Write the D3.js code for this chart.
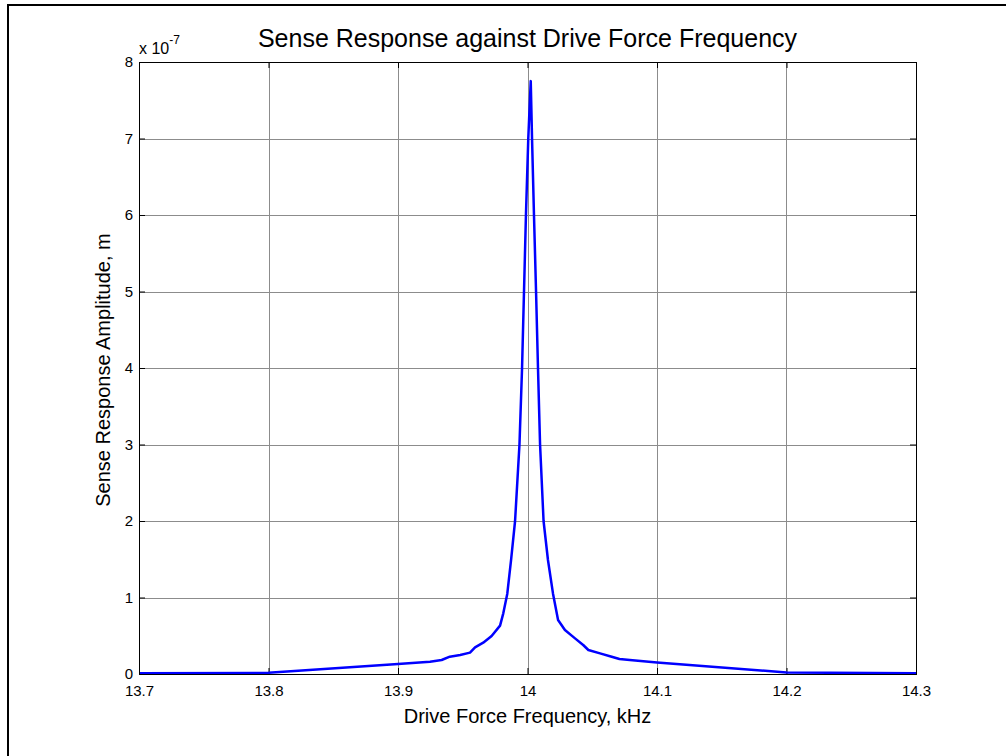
<!DOCTYPE html>
<html>
<head>
<meta charset="utf-8">
<script src="https://cdn.jsdelivr.net/npm/d3@7"></script>
<style>
  html, body { margin: 0; padding: 0; background: #fff; }
  svg { display: block; font-family: "Liberation Sans", Arial, sans-serif; }
</style>
</head>
<body>
<svg id="chart" width="1006" height="756"></svg>
<script>
// Drive force frequency (kHz)
const frequency = [13.70, 13.80, 13.90, 13.9247, 13.9337, 13.940, 13.948, 13.9556, 13.9595, 13.9658,
  13.9723, 13.9788, 13.9813, 13.9844, 13.9873, 13.9904, 13.9938, 13.9958, 13.9973, 13.9988,
  14.0006, 14.0025, 14.0035, 14.0050, 14.0066, 14.0081, 14.0097, 14.0124, 14.0158, 14.0197,
  14.0236, 14.0289, 14.0367, 14.043, 14.047, 14.056, 14.065, 14.071, 14.079, 14.10, 14.20, 14.30];
// Sense response amplitude (x 1e-7 m)
const amplitude = [0.01, 0.015, 0.13, 0.161, 0.183, 0.226, 0.248, 0.279, 0.349, 0.409,
  0.497, 0.632, 0.793, 1.05, 1.49, 2.0, 3.0, 4.0, 5.0, 6.0,
  7.0, 7.75, 7.0, 6.0, 5.0, 4.0, 3.0, 2.0, 1.49, 1.05,
  0.706, 0.575, 0.466, 0.379, 0.314, 0.27, 0.226, 0.196, 0.183, 0.15, 0.02, 0.01];

const xTicks = [13.7, 13.8, 13.9, 14.0, 14.1, 14.2, 14.3];
const xTickLabels = ["13.7", "13.8", "13.9", "14", "14.1", "14.2", "14.3"];
const yTicks = [0, 1, 2, 3, 4, 5, 6, 7, 8];

const titleText = "Sense Response against Drive Force Frequency";
const xLabelText = "Drive Force Frequency, kHz";
const yLabelText = "Sense Response Amplitude, m";

const svg = d3.select("#chart");
const plot = { left: 139, right: 916, top: 62, bottom: 674 };

const x = d3.scaleLinear().domain([13.7, 14.3]).range([plot.left, plot.right]);
const y = d3.scaleLinear().domain([0, 8]).range([plot.bottom, plot.top]);

// figure frame
svg.append("rect")
  .attr("x", 8).attr("y", 5)
  .attr("width", 1010).attr("height", 770)
  .attr("fill", "none").attr("stroke", "#000").attr("stroke-width", 2);

// grid
const grid = svg.append("g").attr("stroke", "#8c8c8c").attr("stroke-width", 1).attr("shape-rendering", "crispEdges");
grid.selectAll("line.gx").data(xTicks.slice(1, -1)).join("line")
  .attr("x1", d => Math.round(x(d)) + 0.5).attr("x2", d => Math.round(x(d)) + 0.5)
  .attr("y1", plot.top).attr("y2", plot.bottom);
grid.selectAll("line.gy").data(yTicks.slice(1, -1)).join("line")
  .attr("y1", d => Math.round(y(d)) + 0.5).attr("y2", d => Math.round(y(d)) + 0.5)
  .attr("x1", plot.left).attr("x2", plot.right);

// axes with inward ticks on all four sides
const tickLen = 6;
const bottomAxis = d3.axisBottom(x).tickValues(xTicks).tickSize(-tickLen).tickPadding(11)
  .tickFormat((d, i) => xTickLabels[i]);
const topAxis = d3.axisTop(x).tickValues(xTicks).tickSize(-tickLen).tickFormat("");
const leftAxis = d3.axisLeft(y).tickValues(yTicks).tickSize(-tickLen).tickPadding(6)
  .tickFormat(d3.format("d"));
const rightAxis = d3.axisRight(y).tickValues(yTicks).tickSize(-tickLen).tickFormat("");

function styleAxis(g) {
  g.select(".domain").remove();
  g.selectAll(".tick line").attr("stroke", "#000");
  g.selectAll(".tick text").attr("fill", "#000").style("font-size", "15px")
    .style("font-family", "'Liberation Sans', Arial, sans-serif");
}
svg.append("g").attr("transform", `translate(0,${plot.bottom})`).call(bottomAxis).call(styleAxis);
svg.append("g").attr("transform", `translate(0,${plot.top})`).call(topAxis).call(styleAxis);
svg.append("g").attr("transform", `translate(${plot.left},0)`).call(leftAxis).call(styleAxis);
svg.append("g").attr("transform", `translate(${plot.right},0)`).call(rightAxis).call(styleAxis);

// response curve
const line = d3.line().x((d, i) => x(frequency[i])).y(d => y(d));
svg.append("path")
  .datum(amplitude)
  .attr("d", line)
  .attr("fill", "none")
  .attr("stroke", "#0000ff")
  .attr("stroke-width", 2.5)
  .attr("stroke-linejoin", "round");

// axes box
svg.append("rect")
  .attr("x", plot.left + 0.5).attr("y", plot.top + 0.5)
  .attr("width", plot.right - plot.left).attr("height", plot.bottom - plot.top)
  .attr("fill", "none").attr("stroke", "#000").attr("stroke-width", 1)
  .attr("shape-rendering", "crispEdges");

// exponent label
const expo = svg.append("text").attr("x", plot.left).attr("y", 54)
  .style("font-size", "16px").attr("fill", "#000");
expo.append("tspan").text("x 10");
expo.append("tspan").attr("dy", -10).style("font-size", "12px").text("-7");

// title and axis labels
svg.append("text").attr("x", (plot.left + plot.right) / 2).attr("y", 47)
  .attr("text-anchor", "middle").style("font-size", "25px").attr("fill", "#000").text(titleText);
svg.append("text").attr("x", (plot.left + plot.right) / 2).attr("y", 723)
  .attr("text-anchor", "middle").style("font-size", "20px").attr("fill", "#000").text(xLabelText);
svg.append("text")
  .attr("transform", `translate(110,${(plot.top + plot.bottom) / 2 + 2}) rotate(-90)`)
  .attr("text-anchor", "middle").style("font-size", "20px").attr("fill", "#000").text(yLabelText);
</script>
</body>
</html>
